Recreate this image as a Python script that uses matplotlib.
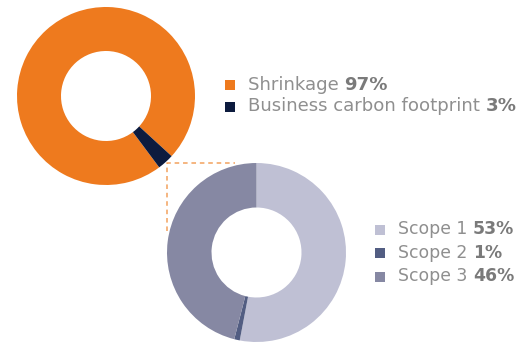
import matplotlib.pyplot as plt

# top donut
top_labels = ['Shrinkage', 'Business carbon footprint']
top_values = [97, 3]
top_colors = ['#EE7A1E', '#0D1B3E']

# bottom donut (breakdown of business carbon footprint)
scope_labels = ['Scope 1', 'Scope 2', 'Scope 3']
scope_values = [53, 1, 46]
scope_colors = ['#BFC0D4', '#525D82', '#8688A3']

W, H = 519, 343
fig = plt.figure(figsize=(W / 100, H / 100), dpi=100)
ax = fig.add_axes([0, 0, 1, 1])

txt_col = '#8f8f8f'
val_col = '#7a7a7a'

# donuts (pixel units, y measured from bottom)
ax.pie(top_values, colors=top_colors, startangle=-42.5, counterclock=True,
       radius=89, center=(106, H - 96),
       wedgeprops=dict(width=44, linewidth=0))
ax.pie(scope_values, colors=scope_colors, startangle=90, counterclock=False,
       radius=89.5, center=(256.5, H - 252.5),
       wedgeprops=dict(width=44.5, linewidth=0))

# dashed connector
ax.plot([167, 167, 235], [H - 231, H - 163, H - 163], color='#F2A25E',
        lw=1.1, ls=(0, (3, 2.5)), zorder=0)


def legend(x, ys, labels, values, colors, fs):
    for y, lab, v, c in zip(ys, labels, values, colors):
        ax.scatter([x], [H - y], marker='s', s=62, color=c, linewidths=0)
        t = ax.text(x + 18, H - y - 4.8, lab + ' ', fontsize=fs, color=txt_col,
                    va='baseline', ha='left')
        ax.annotate(f'{v}%', xy=(1, 0), xycoords=t, fontsize=fs,
                    fontweight='bold', color=val_col, va='bottom', ha='left')


legend(230, [85, 106.5], top_labels, top_values, top_colors, 13.1)
legend(380, [229.5, 253, 276.5], scope_labels, scope_values, scope_colors, 12.4)

ax.set_xlim(0, W)
ax.set_ylim(0, H)
ax.set_aspect('auto')
ax.axis('off')

fig.savefig('out.png', dpi=100)
